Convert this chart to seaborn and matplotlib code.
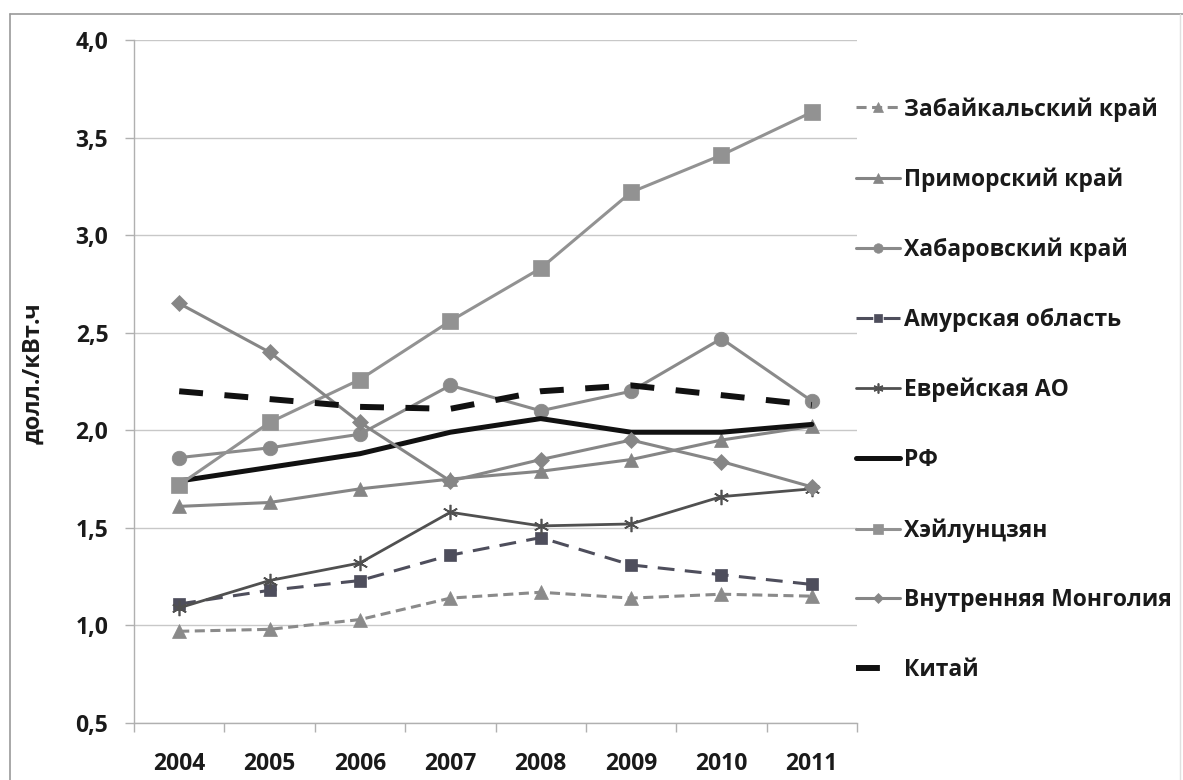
import matplotlib
matplotlib.use("Agg")
import matplotlib.pyplot as plt
import seaborn as sns
import pandas as pd
from matplotlib.ticker import FuncFormatter, FixedLocator
from matplotlib.lines import Line2D

years = ["2004", "2005", "2006", "2007", "2008", "2009", "2010", "2011"]

zabaikalsky = [0.97, 0.98, 1.03, 1.14, 1.17, 1.14, 1.16, 1.15]
primorsky = [1.61, 1.63, 1.70, 1.75, 1.79, 1.85, 1.95, 2.02]
khabarovsky = [1.86, 1.91, 1.98, 2.23, 2.10, 2.20, 2.47, 2.15]
amurskaya = [1.11, 1.18, 1.23, 1.36, 1.45, 1.31, 1.26, 1.21]
evreiskaya = [1.09, 1.23, 1.32, 1.58, 1.51, 1.52, 1.66, 1.70]
rf = [1.74, 1.81, 1.88, 1.99, 2.06, 1.99, 1.99, 2.03]
heilongjiang = [1.72, 2.04, 2.26, 2.56, 2.83, 3.22, 3.41, 3.63]
inner_mongolia = [2.65, 2.40, 2.04, 1.74, 1.85, 1.95, 1.84, 1.71]
china = [2.20, 2.16, 2.12, 2.11, 2.20, 2.23, 2.18, 2.13]

labels = ["Забайкальский край", "Приморский край", "Хабаровский край",
          "Амурская область", "Еврейская АО", "РФ", "Хэйлунцзян",
          "Внутренняя Монголия", "Китай"]
series = [zabaikalsky, primorsky, khabarovsky, amurskaya, evreiskaya,
          rf, heilongjiang, inner_mongolia, china]

y_ticks = [0.5, 1.0, 1.5, 2.0, 2.5, 3.0, 3.5, 4.0]

sns.set_theme(style="white")
plt.rcParams["font.family"] = ["Open Sans", "DejaVu Sans"]

W, H = 1183, 780
fig = plt.figure(figsize=(W / 100, H / 100), dpi=100)
ax = fig.add_axes([134 / W, 1 - 723 / H, (857 - 134) / W, (723 - 40) / H])

styles = [
    dict(color="#8a8a8a", lw=2.2, dashes=(3.3, 1.8), marker="^", ms=10, mew=0.5),
    dict(color="#858585", lw=2.2, dashes=None, marker="^", ms=10.5, mew=0.5),
    dict(color="#8a8a8a", lw=2.2, dashes=None, marker="o", ms=10.5, mew=0.5),
    dict(color="#4e4e5c", lw=2.2, dashes=(5.5, 3.4), marker="s", ms=9, mew=0.5),
    dict(color="#505050", lw=2.0, dashes=None, marker=(6, 2, 0), ms=11, mew=1.2),
    dict(color="#111111", lw=3.6, dashes=None, marker=None, ms=0, mew=0),
    dict(color="#929292", lw=2.2, dashes=None, marker="s", ms=11, mew=0.5),
    dict(color="#868686", lw=2.2, dashes=None, marker="D", ms=8, mew=0.5),
    dict(color="#111111", lw=4.3, dashes=(4.0, 3.6), marker=None, ms=0, mew=0),
]

x_pos = list(range(len(years)))
handles = []
for lab, vals, st in zip(labels, series, styles):
    df = pd.DataFrame({"x": x_pos, "y": vals})
    sns.lineplot(data=df, x="x", y="y", ax=ax, color=st["color"],
                 linewidth=st["lw"], marker=st["marker"], markersize=st["ms"],
                 markeredgecolor=st["color"], markeredgewidth=st["mew"],
                 legend=False, zorder=3)
    line = ax.get_lines()[-1]
    if st["dashes"] is not None:
        line.set_dashes(st["dashes"])
        line.set_dash_capstyle("butt")
    h = Line2D([0], [0], color=st["color"], lw=st["lw"],
               marker=st["marker"], markersize=st["ms"] * 0.65,
               markeredgecolor=st["color"], markeredgewidth=st["mew"])
    if st["dashes"] is not None:
        h.set_dashes(st["dashes"])
        h.set_dash_capstyle("butt")
    handles.append(h)

ax.set_xlim(-0.5, len(years) - 0.5)
ax.set_ylim(0.5, 4.0)
ax.set_xticks(x_pos)
ax.set_xticklabels(years)
ax.xaxis.set_minor_locator(FixedLocator([i - 0.5 for i in range(len(years) + 1)]))
ax.set_yticks(y_ticks)
ax.yaxis.set_major_formatter(FuncFormatter(lambda v, p: f"{v:.1f}".replace(".", ",")))

ax.grid(axis="y", color="#c8c8c8", lw=1.0)
ax.grid(axis="x", visible=False)
for s in ["top", "right"]:
    ax.spines[s].set_visible(False)
for s in ["left", "bottom"]:
    ax.spines[s].set_color("#b0b0b0")
    ax.spines[s].set_linewidth(1.0)

ax.tick_params(axis="x", which="major", length=0, pad=21, labelsize=16.5)
ax.tick_params(axis="x", which="minor", length=6.5, width=1, color="#b0b0b0", direction="out", bottom=True)
ax.tick_params(axis="y", length=6.5, width=1, color="#b0b0b0", direction="out", left=True, pad=12, labelsize=16.5)
for t in ax.get_xticklabels() + ax.get_yticklabels():
    t.set_fontweight("bold")
    t.set_color("#1a1a1a")
ax.set_xlabel("")
ax.set_ylabel("")

fig.text(33 / W, 1 - 373 / H, "долл./кВт.ч", rotation=90, ha="center", va="center",
         fontsize=17, fontweight="bold", color="#1a1a1a")

leg = fig.legend(handles, labels, loc="upper left",
                 bbox_to_anchor=(856 / W, 1 - 97 / H), frameon=False,
                 prop=dict(family=["Open Sans", "DejaVu Sans"], weight="bold", size=16.5),
                 handlelength=1.9, handletextpad=0.2, labelspacing=2.0,
                 borderaxespad=0, borderpad=0)
for t in leg.get_texts():
    t.set_color("#1a1a1a")

# outer chart-area border
fig.add_artist(Line2D([10 / W, 1.0], [1 - 14 / H, 1 - 14 / H], transform=fig.transFigure, color="#9a9a9a", lw=1.2))
fig.add_artist(Line2D([10 / W, 10 / W], [0, 1 - 14 / H], transform=fig.transFigure, color="#9a9a9a", lw=1.2))
fig.add_artist(Line2D([1180 / W, 1180 / W], [0, 1 - 14 / H], transform=fig.transFigure, color="#e0e0e0", lw=1.0))

fig.savefig("out.png", dpi=100, facecolor="white")
